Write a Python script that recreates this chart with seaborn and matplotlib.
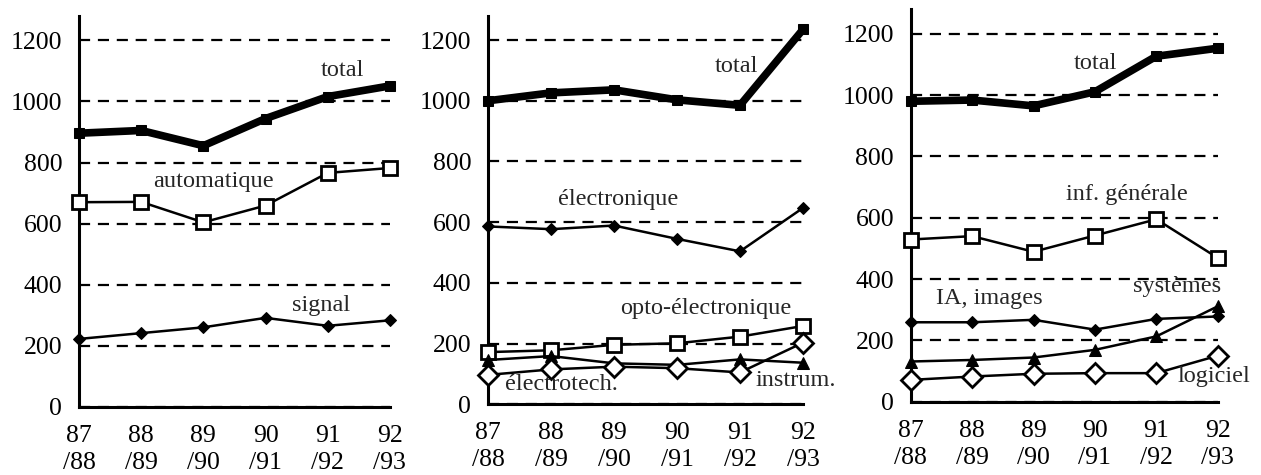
import matplotlib
matplotlib.use("Agg")
import matplotlib.pyplot as plt
import seaborn as sns
import pandas as pd

sns.set_style("white")
plt.rcParams['font.family'] = ['Liberation Serif', 'DejaVu Serif']

years = ["87\n/88", "88\n/89", "89\n/90", "90\n/91", "91\n/92", "92\n/93"]

# panel 1
total_1 = [896, 905, 855, 944, 1016, 1051]
automatique = [670, 671, 604, 659, 766, 782]
signal = [222, 241, 260, 291, 265, 283]

# panel 2
total_2 = [1000, 1026, 1036, 1003, 985, 1235]
electronique = [586, 577, 589, 545, 504, 647]
opto = [172, 178, 196, 201, 223, 258]
instrum = [146, 159, 135, 130, 148, 137]
electrotech = [97, 115, 124, 119, 105, 203]

# panel 3
total_3 = [980, 984, 965, 1011, 1127, 1153]
inf_generale = [529, 540, 489, 542, 595, 469]
ia_images = [259, 259, 267, 235, 270, 278]
systemes = [131, 136, 144, 169, 213, 311]
logiciel = [71, 82, 91, 93, 93, 150]

# line styles
thick = dict(color="black", lw=5.5, marker="s", markersize=7, mfc="black", mec="black")
open_sq = dict(color="black", lw=1.8, marker="s", markersize=10.5, mfc="white", mec="black", mew=2)
small_dia = dict(color="black", lw=1.8, marker="D", markersize=6.5, mfc="black", mec="black")
tri = dict(color="black", lw=1.8, marker="^", markersize=9, mfc="black", mec="black")
open_dia = dict(color="black", lw=1.8, marker="D", markersize=10, mfc="white", mec="black", mew=2)

panels = [
    ([0.0626, 0.1438, 0.2466, 0.8225],
     [(total_1, thick, "total", 4.24, 1102),
      (automatique, open_sq, "automatique", 2.17, 737),
      (signal, small_dia, "signal", 3.89, 333)]),
    ([0.387, 0.1488, 0.2498, 0.818],
     [(opto, open_sq, "opto-électronique", 3.46, 317),
      (instrum, tri, "instrum.", 4.88, 80),
      (electrotech, open_dia, "électrotech.", 1.16, 64),
      (electronique, small_dia, "électronique", 2.07, 674),
      (total_2, thick, "total", 3.95, 1114)]),
    ([0.7222, 0.1544, 0.2435, 0.826],
     [(total_3, thick, "total", 3.0, 1102),
      (inf_generale, open_sq, "inf. générale", 3.52, 676),
      (ia_images, small_dia, "IA, images", 1.28, 338),
      (systemes, tri, "systèmes", 4.33, 376),
      (logiciel, open_dia, "logiciel", 4.93, 82)]),
]

fig = plt.figure(figsize=(12.61, 4.75), dpi=100)

for rect, series in panels:
    ax = fig.add_axes(rect)
    for values, style, name, tx, ty in series:
        df = pd.DataFrame({"x": range(len(years)), "y": values})
        sns.lineplot(data=df, x="x", y="y", ax=ax, **style, zorder=3, clip_on=False)
        ax.text(tx, ty, name, ha="center", va="center", fontsize=17.5, zorder=4)
    ax.set_xlim(0, len(years) - 1)
    ax.set_ylim(0, 1280)
    ax.set_yticks([0, 200, 400, 600, 800, 1000, 1200])
    ax.set_xticks(range(len(years)))
    ax.set_xticklabels(years, linespacing=1.3)
    ax.set_xlabel("")
    ax.set_ylabel("")
    ax.grid(axis="y", color="black", linestyle=(0, (5, 3.5)), lw=1.6)
    ax.grid(axis="x", visible=False)
    ax.set_axisbelow(True)
    for side in ["top", "right"]:
        ax.spines[side].set_visible(False)
    for side in ["left", "bottom"]:
        ax.spines[side].set_linewidth(2.2)
        ax.spines[side].set_color("black")
    ax.tick_params(axis="both", direction="inout", colors="black", width=1.8,
                   labelsize=18.5)
    ax.tick_params(axis="y", length=12, pad=6)
    ax.tick_params(axis="x", length=16, pad=5)

fig.savefig("out.png", dpi=100)
